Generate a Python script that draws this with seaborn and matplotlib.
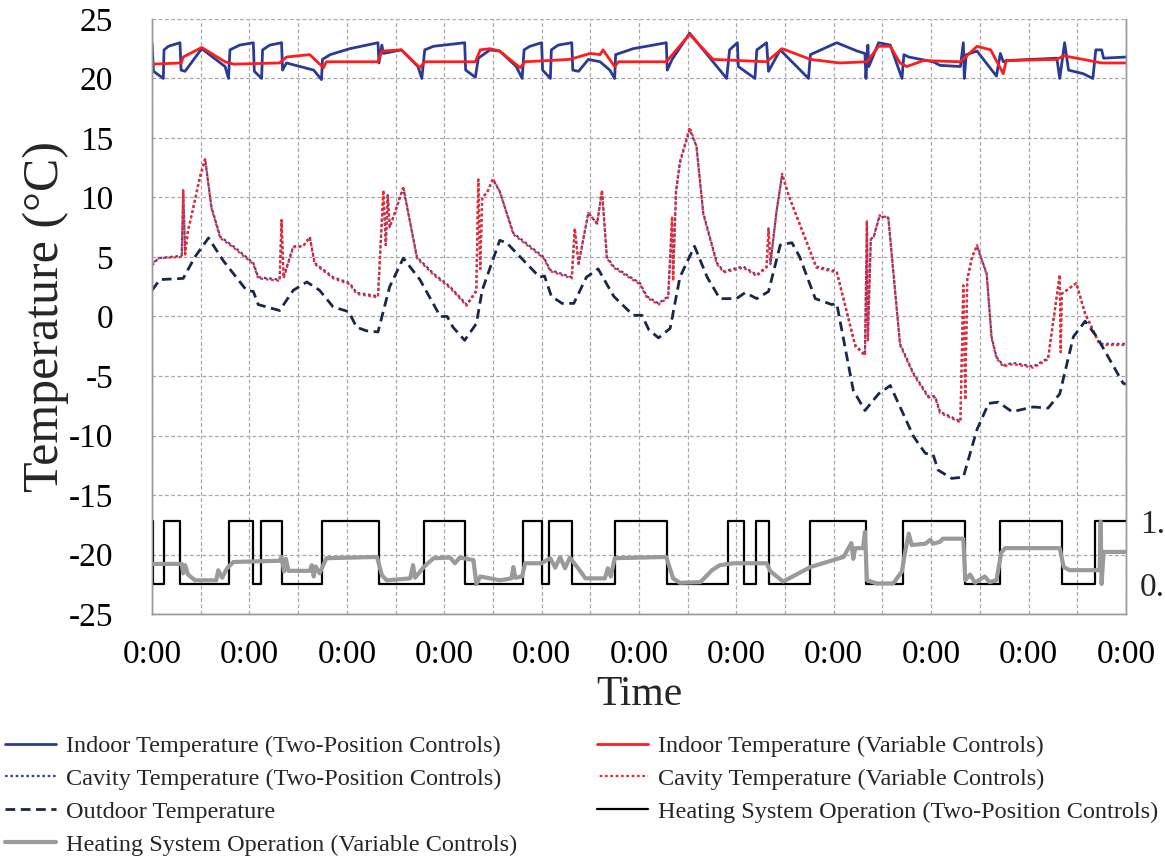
import pandas as pd
import matplotlib
matplotlib.use("Agg")
import matplotlib.pyplot as plt
import seaborn as sns

# time is in days from the start of the record; every day tick reads 0:00
indoor_two_t = [0.0, 0.015, 0.116, 0.123, 0.168, 0.287, 0.298, 0.339, 0.51, 0.75, 0.785, 0.80, 0.90,
                1.04, 1.05, 1.125, 1.135, 1.21, 1.33, 1.34, 1.38, 1.52, 1.66, 1.74, 1.75, 1.83, 2.03,
                2.32, 2.33, 2.36, 2.375, 2.56, 2.73, 2.77, 2.80, 2.89, 3.21, 3.22, 3.32, 3.35, 3.47,
                3.57, 3.74, 3.80, 3.82, 3.88, 4.00, 4.01, 4.09, 4.10, 4.17, 4.31, 4.32, 4.38, 4.48,
                4.60, 4.70, 4.75, 4.76, 4.94, 5.28, 5.29, 5.34, 5.52, 5.73, 5.90, 5.93, 5.97, 6.01,
                6.02, 6.19, 6.21, 6.31, 6.33, 6.45, 6.74, 6.76, 7.03, 7.24, 7.32, 7.33, 7.35, 7.36,
                7.46, 7.58, 7.70, 7.72, 7.77, 8.02, 8.09, 8.30, 8.33, 8.34, 8.36, 8.47, 8.67, 8.71,
                8.74, 8.77, 9.29, 9.32, 9.37, 9.41, 9.56, 9.66, 9.69, 9.75, 9.77, 10.0]
indoor_two_c = [23.0, 20.6, 20.0, 22.4, 22.7, 23.0, 20.7, 20.6, 22.5, 21.0, 20.0, 22.4, 22.8,
                23.0, 20.6, 20.0, 22.4, 22.8, 23.0, 20.7, 21.3, 21.0, 20.7, 19.9, 21.6, 22.0, 22.5,
                23.0, 21.3, 22.8, 22.1, 22.4, 21.0, 20.0, 22.4, 22.7, 23.0, 20.7, 20.1, 21.7, 22.4,
                22.3, 21.0, 20.0, 22.4, 22.7, 23.0, 20.7, 20.0, 22.4, 22.8, 23.0, 20.7, 20.6, 21.6,
                21.4, 20.7, 20.0, 22.0, 22.5, 23.0, 20.7, 21.6, 23.8, 21.7, 20.0, 22.4, 22.7, 23.0,
                21.0, 20.0, 22.4, 23.0, 20.6, 22.4, 20.0, 22.0, 23.0, 22.3, 22.1, 20.0, 22.8, 21.0,
                23.0, 22.8, 20.0, 22.0, 21.8, 21.4, 21.1, 21.0, 23.0, 20.0, 22.0, 22.3, 20.2, 22.1,
                21.4, 21.5, 21.7, 20.0, 23.0, 20.7, 20.4, 20.0, 22.4, 22.4, 21.7, 21.8]

indoor_var_t = [0.0, 0.30, 0.32, 0.51, 0.75, 0.84, 1.31, 1.38, 1.62, 1.76, 1.79, 2.32, 2.36, 2.56,
                2.75, 2.80, 3.32, 3.37, 3.47, 3.57, 3.78, 3.83, 4.29, 4.50, 4.60, 4.63, 4.75, 4.79,
                5.28, 5.52, 5.76, 6.31, 6.47, 6.76, 7.06, 7.34, 7.46, 7.58, 7.68, 7.75, 7.92, 8.30,
                8.47, 8.61, 8.74, 8.77, 9.29, 9.36, 9.56, 9.75, 10.0]
indoor_var_c = [21.2, 21.3, 21.8, 22.6, 21.4, 21.2, 21.3, 21.8, 22.0, 20.9, 21.4, 21.4, 22.3, 22.4,
                20.9, 21.4, 21.4, 22.4, 22.5, 22.3, 20.9, 21.4, 21.6, 22.1, 22.0, 22.4, 21.0, 21.4,
                21.4, 23.7, 21.6, 21.4, 22.5, 21.6, 21.3, 21.4, 22.7, 22.7, 21.3, 21.0, 21.5, 21.4,
                22.7, 22.4, 20.4, 21.5, 21.6, 21.9, 21.6, 21.3, 21.3]

# cavity temperature: both control modes follow almost the same trace
cavity_t = [0.0, 0.065, 0.305, 0.32, 0.34, 0.37, 0.42, 0.49, 0.545, 0.61, 0.70, 0.835, 1.04, 1.09,
            1.31, 1.33, 1.35, 1.45, 1.55, 1.62, 1.67, 1.86, 2.03, 2.10, 2.32, 2.375, 2.40, 2.42,
            2.44, 2.48, 2.58, 2.72, 2.89, 3.06, 3.23, 3.33, 3.35, 3.37, 3.39, 3.44, 3.50, 3.57,
            3.71, 4.02, 4.09, 4.31, 4.34, 4.38, 4.48, 4.57, 4.62, 4.67, 4.74, 5.01, 5.08, 5.20,
            5.30, 5.34, 5.35, 5.38, 5.42, 5.52, 5.59, 5.66, 5.80, 5.87, 6.07, 6.21, 6.31, 6.33,
            6.35, 6.41, 6.47, 6.54, 6.65, 6.82, 7.03, 7.22, 7.32, 7.34, 7.35, 7.38, 7.41, 7.47,
            7.56, 7.68, 7.82, 7.97, 8.04, 8.09, 8.30, 8.33, 8.35, 8.37, 8.42, 8.47, 8.57, 8.62,
            8.67, 8.74, 8.84, 9.05, 9.20, 9.32, 9.33, 9.34, 9.49, 9.58, 9.73, 10.0]
cavity_two_c = [4.3, 4.9, 5.1, 10.6, 5.3, 7.3, 9.0, 11.6, 13.2, 9.2, 6.7, 5.9, 4.5, 3.3,
                3.1, 8.1, 3.3, 5.9, 5.9, 6.7, 4.5, 3.3, 2.8, 2.0, 1.7, 10.6, 6.0, 10.2,
                7.5, 8.4, 10.8, 5.0, 3.6, 2.5, 1.0, 2.2, 11.5, 4.0, 10.0, 10.4, 11.5, 10.5,
                7.0, 5.0, 3.9, 3.3, 7.4, 4.5, 8.7, 7.8, 10.6, 5.0, 4.2, 2.8, 1.7, 1.1,
                1.7, 8.4, 3.0, 10.5, 12.9, 15.7, 14.3, 8.7, 4.5, 3.8, 4.2, 3.5, 4.2, 7.4,
                4.5, 8.7, 11.9, 10.1, 7.8, 4.2, 3.8, -2.4, -3.2, 8.0, -2.0, 6.5, 6.7, 8.4,
                8.3, -2.3, -4.8, -6.7, -6.7, -8.0, -8.8, 2.6, -7.0, 3.1, 5.0, 5.9, 3.6,
                -1.7, -3.4, -4.1, -3.9, -4.2, -3.5, 3.5, -3.0, 1.9, 2.8, 0.3, -2.3, -2.3]
cavity_var_c = [4.4, 4.9, 5.0, 10.6, 5.2, 7.2, 9.0, 11.7, 13.3, 9.1, 6.6, 5.8, 4.4, 3.2,
                3.0, 8.1, 3.2, 5.8, 5.9, 6.6, 4.4, 3.2, 2.7, 1.9, 1.6, 10.6, 6.0, 10.2,
                7.5, 8.4, 10.9, 4.9, 3.5, 2.4, 0.9, 2.1, 11.5, 4.0, 10.0, 10.4, 11.6, 10.5,
                6.9, 4.9, 3.8, 3.2, 7.4, 4.4, 8.7, 7.8, 10.6, 4.9, 4.1, 2.7, 1.6, 1.0,
                1.6, 8.4, 3.0, 10.5, 13.0, 15.9, 14.3, 8.6, 4.4, 3.7, 4.1, 3.4, 4.1, 7.4,
                4.4, 8.7, 12.0, 10.1, 7.7, 4.1, 3.7, -2.5, -3.3, 8.0, -2.0, 6.5, 6.7, 8.5,
                8.3, -2.4, -4.9, -6.8, -6.8, -8.1, -8.9, 2.6, -7.0, 3.1, 5.0, 6.0, 3.5,
                -1.8, -3.5, -4.2, -4.0, -4.3, -3.6, 3.5, -3.0, 1.9, 2.8, 0.2, -2.4, -2.4]

outdoor_t = [0.0, 0.08, 0.32, 0.44, 0.58, 0.73, 0.97, 1.04, 1.09, 1.31, 1.45, 1.59, 1.72, 1.86,
             2.02, 2.10, 2.20, 2.32, 2.44, 2.58, 2.75, 2.96, 3.03, 3.09, 3.21, 3.33, 3.39, 3.57,
             3.64, 3.98, 4.03, 4.10, 4.21, 4.33, 4.46, 4.58, 4.74, 4.94, 5.03, 5.10, 5.20, 5.32,
             5.42, 5.57, 5.70, 5.83, 6.00, 6.09, 6.21, 6.33, 6.45, 6.57, 6.65, 6.81, 6.98, 7.03,
             7.20, 7.32, 7.46, 7.58, 7.82, 7.94, 8.02, 8.07, 8.21, 8.33, 8.47, 8.59, 8.69, 8.83,
             9.05, 9.20, 9.32, 9.46, 9.58, 9.70, 9.97, 10.0]
outdoor_c = [2.2, 3.1, 3.2, 5.0, 6.6, 4.7, 2.2, 2.1, 1.0, 0.5, 2.2, 2.9, 2.2, 0.8,
             0.4, -0.9, -1.2, -1.3, 2.5, 4.9, 3.1, 0.0, 0.0, -0.9, -2.0, -0.6, 2.2, 6.4,
             6.2, 3.3, 3.4, 1.7, 1.1, 1.1, 3.3, 4.0, 1.7, 0.1, 0.1, -1.1, -1.8, -1.0,
             3.3, 5.9, 3.3, 1.5, 1.5, 2.0, 1.5, 2.1, 6.0, 6.2, 5.0, 1.5, 1.0, 1.1,
             -6.2, -7.9, -6.5, -5.8, -10.1, -11.5, -11.6, -12.9, -13.6, -13.5, -9.5, -7.3, -7.2, -8.0,
             -7.6, -7.7, -6.5, -1.7, -0.4, -1.7, -5.6, -5.7]

# heating on/off (two-position), switch times
heat_two_t = [0.0, 0.005, 0.12, 0.29, 0.79, 1.04, 1.12, 1.33, 1.75, 2.33, 2.79, 3.21, 3.81, 4.00,
              4.08, 4.31, 4.75, 5.29, 5.91, 6.08, 6.20, 6.33, 6.76, 7.33, 7.71, 8.35, 8.71, 9.34,
              9.68, 10.0]
heat_two_v = [1, 0, 1, 0, 1, 0, 1, 0, 1, 0, 1, 0, 1, 0,
              1, 0, 1, 0, 1, 0, 1, 0, 1, 0, 1, 0, 1, 0,
              1, 1]

# heating output fraction (variable controls)
heat_var_t = [0.0, 0.305, 0.32, 0.34, 0.37, 0.44, 0.66, 0.68, 0.72, 0.77, 0.835, 1.31, 1.33, 1.355,
              1.375, 1.40, 1.62, 1.64, 1.66, 1.68, 1.72, 1.79, 2.31, 2.36, 2.41, 2.65, 2.68, 2.70,
              2.79, 2.89, 3.06, 3.11, 3.16, 3.30, 3.33, 3.37, 3.57, 3.69, 3.71, 3.73, 3.80, 3.83,
              4.00, 4.09, 4.14, 4.19, 4.24, 4.29, 4.39, 4.45, 4.65, 4.68, 4.71, 4.75, 5.28, 5.35,
              5.42, 5.63, 5.75, 5.83, 5.97, 6.31, 6.35, 6.48, 6.76, 7.10, 7.18, 7.20, 7.22, 7.30,
              7.32, 7.34, 7.44, 7.61, 7.70, 7.73, 7.77, 7.80, 7.94, 7.99, 8.02, 8.09, 8.12, 8.33,
              8.35, 8.40, 8.45, 8.55, 8.60, 8.67, 8.72, 8.76, 9.32, 9.36, 9.42, 9.73, 9.74, 9.75,
              9.77, 10.0]
heat_var_v = [0.32, 0.32, 0.17, 0.30, 0.15, 0.06, 0.06, 0.22, 0.10, 0.25, 0.35, 0.37, 0.43, 0.20,
              0.40, 0.21, 0.21, 0.30, 0.12, 0.28, 0.17, 0.41, 0.43, 0.14, 0.06, 0.09, 0.30, 0.10,
              0.27, 0.41, 0.42, 0.33, 0.42, 0.38, 0.0, 0.12, 0.06, 0.09, 0.27, 0.10, 0.12, 0.33,
              0.33, 0.41, 0.26, 0.43, 0.25, 0.42, 0.22, 0.09, 0.09, 0.25, 0.12, 0.41, 0.43, 0.09,
              0.02, 0.03, 0.22, 0.30, 0.33, 0.33, 0.20, 0.04, 0.27, 0.43, 0.65, 0.40, 0.57, 0.57,
              0.83, 0.06, 0.01, 0.01, 0.20, 0.49, 0.80, 0.62, 0.64, 0.70, 0.64, 0.67, 0.72, 0.72,
              0.06, 0.15, 0.02, 0.12, 0.03, 0.06, 0.50, 0.57, 0.57, 0.27, 0.22, 0.22, 0.99, 0.0,
              0.51, 0.51]

day_ticks = list(range(11))
day_labels = ["0:00"] * 11
temp_ticks = [-25, -20, -15, -10, -5, 0, 5, 10, 15, 20, 25]
heat_ticks = [0, 1]
heat_labels = ["0.0", "1.0"]

labels = {
    "indoor_two": "Indoor Temperature (Two-Position Controls)",
    "cavity_two": "Cavity Temperature (Two-Position Controls)",
    "outdoor": "Outdoor Temperature",
    "heat_var": "Heating System Operation (Variable Controls)",
    "indoor_var": "Indoor Temperature (Variable Controls)",
    "cavity_var": "Cavity Temperature (Variable Controls)",
    "heat_two": "Heating System Operation (Two-Position Controls)",
}


def frame(t, v):
    return pd.DataFrame({"t": t, "v": v})


sns.set_theme(style="white")
plt.rcParams['font.family'] = ['Liberation Serif', 'DejaVu Serif']

fig = plt.figure(figsize=(11.65, 8.6), dpi=100)
ax = fig.add_axes([0.1305, 0.286, 0.836, 0.692])
ax2 = ax.twinx()

# temperatures on the left axis
sns.lineplot(data=frame(cavity_t, cavity_two_c), x="t", y="v", ax=ax, estimator=None,
             color="#3b46a6", lw=1.6, linestyle=(0, (1.2, 1.2)), label=labels["cavity_two"])
sns.lineplot(data=frame(cavity_t, cavity_var_c), x="t", y="v", ax=ax, estimator=None,
             color="#ff2424", lw=1.6, linestyle=(1.2, (1.2, 1.2)), label=labels["cavity_var"])
sns.lineplot(data=frame(outdoor_t, outdoor_c), x="t", y="v", ax=ax, estimator=None,
             color="#1b2748", lw=2.0, linestyle=(0, (3.5, 2)), label=labels["outdoor"])
sns.lineplot(data=frame(indoor_two_t, indoor_two_c), x="t", y="v", ax=ax, estimator=None,
             color="#2a3a96", lw=2.0, label=labels["indoor_two"])
sns.lineplot(data=frame(indoor_var_t, indoor_var_c), x="t", y="v", ax=ax, estimator=None,
             color="#ff1c1c", lw=2.0, label=labels["indoor_var"])

# heating operation on the right axis
sns.lineplot(data=frame(heat_two_t, heat_two_v), x="t", y="v", ax=ax2, estimator=None,
             color="black", lw=1.6, drawstyle="steps-post", label=labels["heat_two"])
sns.lineplot(data=frame(heat_var_t, heat_var_v), x="t", y="v", ax=ax2, estimator=None,
             color="#9a9a9a", lw=3.0, label=labels["heat_var"])

ax.set_xlim(0, 10)
ax.set_ylim(-25, 25)
ax2.set_ylim(-0.476, 8.97)

ax.set_xticks(day_ticks)
ax.set_xticklabels(day_labels)
ax.set_xticks([d + 0.5 for d in day_ticks[:-1]], minor=True)
ax.set_yticks(temp_ticks)
ax.set_yticklabels([str(v) for v in temp_ticks])
ax2.set_yticks(heat_ticks)
ax2.set_yticklabels(heat_labels)

grid_kw = dict(color="#a8a8a8", linestyle=(0, (3, 2)), lw=0.9)
ax.grid(True, which="both", axis="x", **grid_kw)
ax.grid(True, which="major", axis="y", **grid_kw)
ax.set_axisbelow(True)

ax.tick_params(axis="both", which="both", length=0, labelsize=24, colors="black")
ax.tick_params(axis="y", pad=28)
ax.tick_params(axis="x", pad=18)
ax2.tick_params(axis="y", length=0, labelsize=24, pad=10)

for a in (ax, ax2):
    a.spines["top"].set_visible(False)
    for s in ("left", "right", "bottom"):
        a.spines[s].set_color("#9a9a9a")
        a.spines[s].set_linewidth(1.0)

ax.set_xlabel("Time", fontsize=30, labelpad=4)
ax.set_ylabel("Temperature (°C)", fontsize=36, labelpad=0)
ax2.set_ylabel("")

h1, l1 = ax.get_legend_handles_labels()
h2, l2 = ax2.get_legend_handles_labels()
handle_of = dict(zip(l1 + l2, h1 + h2))
ax.get_legend().remove()
ax2.get_legend().remove()

order = ["indoor_two", "cavity_two", "outdoor", "heat_var", "indoor_var", "cavity_var", "heat_two"]
leg_labels = [labels[k] for k in order]
fig.legend([handle_of[lab] for lab in leg_labels], leg_labels, loc="upper left",
           bbox_to_anchor=(0.0, 0.151), ncol=2, frameon=False, fontsize=17.5,
           handlelength=2.1, handletextpad=0.4, columnspacing=3.3, labelspacing=0.45,
           borderaxespad=0, borderpad=0.2)

fig.savefig("out.png", dpi=100)
